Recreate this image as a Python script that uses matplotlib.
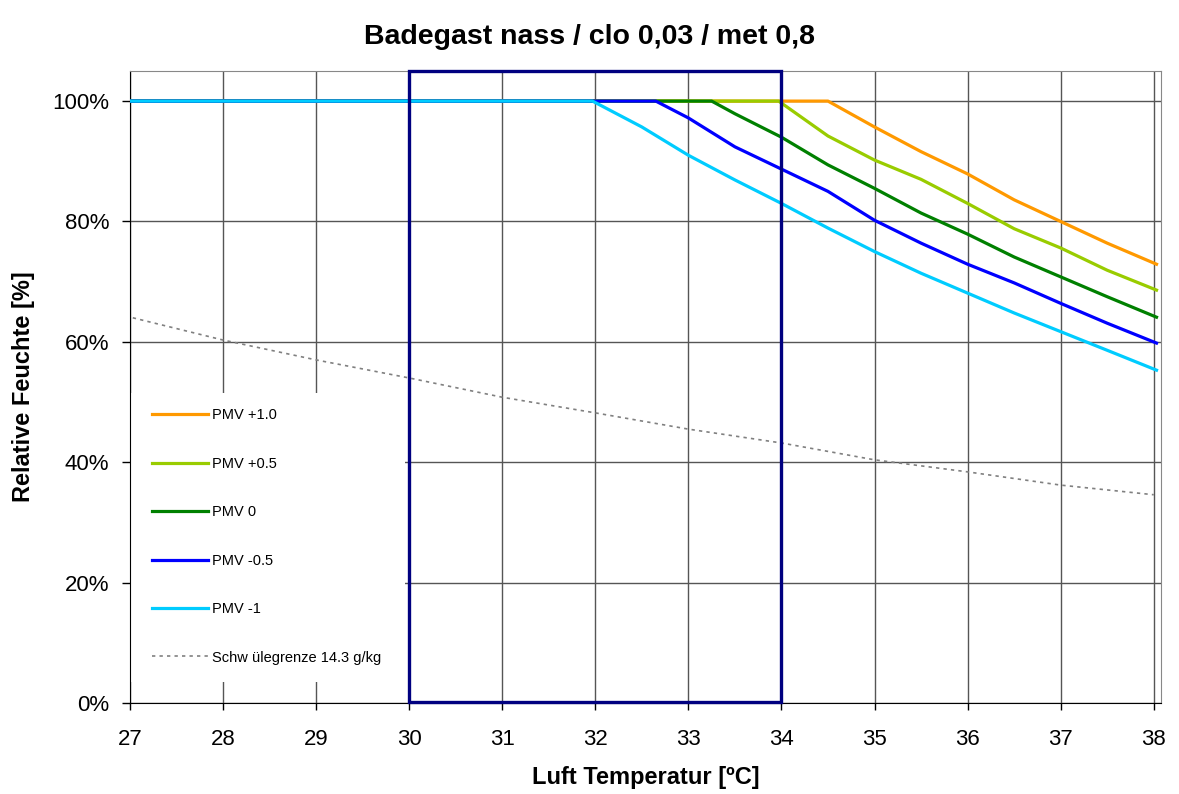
import matplotlib
matplotlib.use("Agg")
import matplotlib.pyplot as plt
from matplotlib.patches import Rectangle

plt.rcParams['font.family'] = ['Liberation Sans', 'DejaVu Sans']

# ---- data ----
t_pmv_p10 = [27, 34.5, 35, 35.5, 36, 36.5, 37, 37.5, 38.03]
rh_pmv_p10 = [100, 100, 95.7, 91.6, 87.9, 83.6, 80.0, 76.4, 72.9]

t_pmv_p05 = [27, 33.97, 34.5, 35, 35.5, 36, 36.5, 37, 37.5, 38.03]
rh_pmv_p05 = [100, 100, 94.2, 90.2, 87.0, 83.0, 78.8, 75.6, 71.9, 68.6]

t_pmv_0 = [27, 33.25, 33.5, 34, 34.5, 35, 35.5, 36, 36.5, 37, 37.5, 38.03]
rh_pmv_0 = [100, 100, 97.9, 94.0, 89.4, 85.5, 81.4, 77.9, 74.1, 70.8, 67.5, 64.1]

t_pmv_m05 = [27, 32.65, 33, 33.5, 34, 34.5, 35, 35.5, 36, 36.5, 37, 37.5, 38.03]
rh_pmv_m05 = [100, 100, 97.2, 92.4, 88.7, 85.0, 80.2, 76.4, 72.9, 69.8, 66.4, 63.1, 59.8]

t_pmv_m10 = [27, 31.97, 32.5, 33, 33.5, 34, 34.5, 35, 35.5, 36, 36.5, 37, 37.5, 38.03]
rh_pmv_m10 = [100, 100, 95.7, 91.0, 86.9, 83.0, 78.9, 75.0, 71.4, 68.1, 64.8, 61.7, 58.6, 55.3]

t_schwuele = [27.03, 28, 29, 30, 31, 32, 33, 34, 35, 36, 37, 38.0]
rh_schwuele = [64.0, 60.3, 57.0, 54.0, 50.8, 48.2, 45.5, 43.2, 40.4, 38.4, 36.2, 34.6]

comfort_t = [30, 34]
comfort_rh = [0.1, 105]

series_labels = ['PMV +1.0', 'PMV +0.5', 'PMV 0', 'PMV -0.5', 'PMV -1',
                 'Schw ülegrenze 14.3 g/kg']
series_colors = ['#FF9900', '#99CC00', '#008000', '#0000FF', '#00CCFF', '#808080']

x_ticks = list(range(27, 39))
y_ticks = [0, 20, 40, 60, 80, 100]
y_ticklabels = ['0%', '20%', '40%', '60%', '80%', '100%']

# ---- figure ----
fig = plt.figure(figsize=(11.79, 7.94), dpi=100)
ax = fig.add_axes([130/1179, 1-703/794, (1160.7-130)/1179, (703-71)/794])

ax.set_xlim(27, 38.075)
ax.set_ylim(0, 105)
ax.set_axisbelow(True)
ax.grid(True, color='#555555', linewidth=1.0)

# white legend area that hides the grid
ax.add_patch(Rectangle((0, 0.033), 0.2668, 0.4575, transform=ax.transAxes,
                       facecolor='white', edgecolor='none', zorder=1))

data = [(t_pmv_p10, rh_pmv_p10), (t_pmv_p05, rh_pmv_p05), (t_pmv_0, rh_pmv_0),
        (t_pmv_m05, rh_pmv_m05), (t_pmv_m10, rh_pmv_m10)]
handles = []
for (tx, ry), lab, col in zip(data, series_labels[:5], series_colors[:5]):
    h, = ax.plot(tx, ry, color=col, linewidth=2.3, label=lab, zorder=3)
    handles.append(h)
h, = ax.plot(t_schwuele, rh_schwuele, color=series_colors[5], linewidth=1.2,
             linestyle=(0, (2, 2.5)), label=series_labels[5], zorder=3)
handles.append(h)

ax.add_patch(Rectangle((comfort_t[0], comfort_rh[0]), comfort_t[1]-comfort_t[0],
                       comfort_rh[1]-comfort_rh[0], facecolor='none',
                       edgecolor='#000080', linewidth=2.4, zorder=4, clip_on=False))

ax.set_xticks(x_ticks)
ax.set_xticklabels([str(v) for v in x_ticks], fontsize=16)
ax.set_yticks(y_ticks)
ax.set_yticklabels(y_ticklabels, fontsize=16)
ax.tick_params(axis='x', direction='out', length=5, width=1, color='black', pad=14)
ax.tick_params(axis='y', direction='out', length=6, width=1, color='black', pad=9)

for s in ['left', 'bottom']:
    ax.spines[s].set_color('black')
for s in ['top', 'right']:
    ax.spines[s].set_color('#888888')

leg = ax.legend(handles=handles, loc='upper left', bbox_to_anchor=(0.0213, 0.466),
                frameon=False, fontsize=10.5, handlelength=3.85, handletextpad=0.27,
                labelspacing=2.36, borderaxespad=0, borderpad=0)
leg.set_zorder(5)

ax.set_xlabel('Luft Temperatur [ºC]', fontsize=17, fontweight='bold', labelpad=11)
ax.set_ylabel('Relative Feuchte [%]', fontsize=17, fontweight='bold', labelpad=12)
fig.text(0.5, 1-37/794, 'Badegast nass / clo 0,03 / met 0,8', ha='center',
         va='center', fontsize=20.5, fontweight='bold')

fig.savefig('out.png', dpi=100)
